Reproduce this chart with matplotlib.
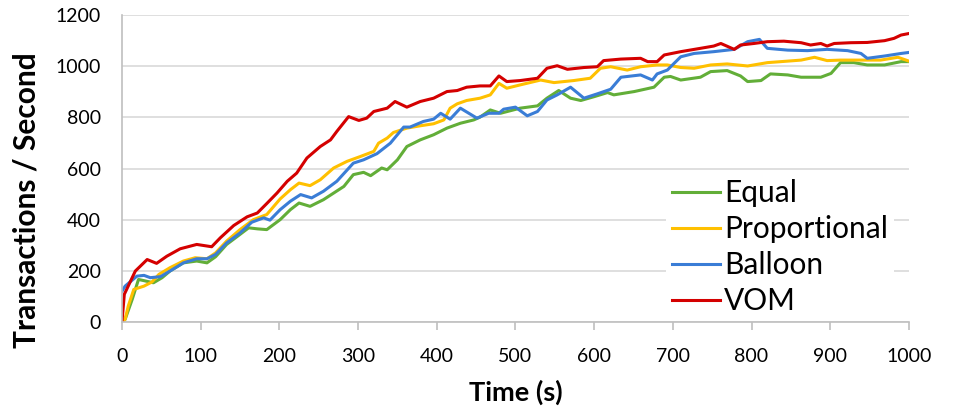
import matplotlib
matplotlib.use("Agg")
import matplotlib.pyplot as plt

# values (time in s, transactions / second)
equal_t = [0, 4, 13, 21, 30, 40, 51, 61, 78, 95, 108, 119, 133, 146, 161, 172, 184, 201, 214, 225,
           239, 256, 269, 282, 294, 307, 316, 330, 337, 350, 362, 379, 396, 413, 430, 447, 455, 468,
           481, 506, 528, 540, 555, 570, 583, 600, 617, 625, 651, 676, 689, 697, 710, 735, 748, 769,
           786, 795, 812, 824, 846, 863, 888, 901, 913, 930, 947, 969, 990, 1000]
equal_v = [0, 10, 88, 166, 160, 153, 173, 199, 231, 238, 231, 255, 303, 333, 368, 364, 361, 400, 439, 465,
           452, 478, 504, 530, 576, 585, 572, 602, 595, 634, 686, 712, 732, 758, 777, 790, 801, 829,
           816, 836, 845, 875, 905, 875, 866, 881, 897, 888, 901, 918, 957, 960, 946, 957, 979, 983,
           962, 940, 944, 970, 966, 957, 957, 972, 1014, 1014, 1005, 1005, 1018, 1018]

prop_t = [0, 4, 8, 15, 28, 38, 47, 61, 78, 93, 108, 119, 133, 150, 167, 184, 201, 214, 225, 239,
          252, 269, 286, 303, 320, 326, 337, 345, 362, 379, 396, 409, 417, 426, 438, 455, 468, 479,
          489, 506, 532, 549, 574, 595, 608, 621, 642, 659, 680, 693, 710, 727, 748, 769, 795, 820,
          846, 863, 880, 896, 913, 939, 964, 986, 1000]
prop_v = [0, 10, 62, 127, 140, 156, 186, 212, 238, 251, 247, 270, 316, 361, 400, 420, 481, 517, 543, 533,
          556, 602, 628, 647, 667, 699, 719, 741, 758, 767, 775, 790, 836, 853, 866, 875, 888, 933,
          914, 927, 946, 936, 944, 953, 992, 998, 985, 998, 1005, 1005, 995, 992, 1005, 1009, 1001, 1014,
          1020, 1024, 1035, 1022, 1024, 1024, 1024, 1035, 1020]

balloon_t = [0, 4, 19, 28, 36, 49, 61, 78, 95, 108, 119, 133, 150, 165, 180, 188, 201, 214, 227, 241,
             256, 273, 294, 307, 324, 341, 358, 366, 383, 396, 405, 417, 430, 451, 466, 479, 485, 500,
             515, 528, 540, 553, 570, 587, 604, 621, 634, 659, 674, 680, 693, 710, 727, 752, 778, 795,
             810, 820, 846, 871, 896, 922, 939, 947, 969, 990, 1000]
balloon_v = [120, 140, 179, 182, 173, 177, 199, 231, 247, 247, 264, 309, 348, 390, 407, 398, 439, 472, 498, 485,
             511, 550, 621, 634, 658, 699, 762, 762, 784, 793, 816, 793, 836, 797, 816, 816, 832, 840,
             806, 823, 868, 888, 918, 875, 892, 910, 957, 966, 946, 970, 985, 1037, 1050, 1057, 1066, 1096,
             1105, 1070, 1063, 1061, 1066, 1061, 1050, 1031, 1040, 1050, 1054]

vom_t = [0, 3, 17, 32, 44, 57, 74, 95, 114, 125, 142, 159, 172, 184, 197, 210, 222, 235, 252, 265,
         273, 288, 301, 311, 320, 337, 347, 362, 379, 396, 413, 426, 438, 455, 468, 479, 489, 506,
         528, 540, 553, 566, 587, 604, 612, 634, 659, 668, 680, 689, 710, 735, 752, 761, 778, 786,
         803, 820, 841, 863, 875, 888, 896, 905, 926, 947, 969, 981, 990, 1000]
vom_v = [0, 108, 199, 244, 229, 257, 286, 303, 294, 329, 377, 411, 426, 463, 504, 550, 582, 641, 686, 712,
         745, 803, 788, 797, 823, 836, 862, 840, 862, 875, 901, 905, 918, 923, 923, 962, 940, 944,
         953, 992, 1002, 988, 995, 998, 1022, 1028, 1031, 1018, 1018, 1044, 1057, 1070, 1079, 1089, 1066, 1083,
         1089, 1096, 1098, 1092, 1083, 1089, 1079, 1089, 1092, 1093, 1100, 1109, 1122, 1128]

plt.rcParams['font.family'] = ['Lato', 'DejaVu Sans']

fig = plt.figure(figsize=(9.68, 4.08), dpi=100)
ax = fig.add_axes([0.126, 0.211, 0.813, 0.752])

ax.plot(equal_t, equal_v, color='#62AE38', lw=2.2, label='Equal')
ax.plot(prop_t, prop_v, color='#FFC000', lw=2.2, label='Proportional')
ax.plot(balloon_t, balloon_v, color='#3A7DD6', lw=2.2, label='Balloon')
ax.plot(vom_t, vom_v, color='#D40000', lw=2.2, label='VOM')

ax.set_xlim(0, 1000)
ax.set_ylim(0, 1200)
ax.set_xticks(range(0, 1001, 100))
ax.set_yticks(range(0, 1201, 200))
ax.yaxis.grid(True, color='#D9D9D9', lw=1.2)
ax.set_axisbelow(True)
for s in ['top', 'right']:
    ax.spines[s].set_visible(False)
for s in ['left', 'bottom']:
    ax.spines[s].set_color('#BFBFBF')
    ax.spines[s].set_linewidth(1.2)
ax.tick_params(axis='x', length=6, width=1.2, color='#BFBFBF', labelsize=14, pad=13)
ax.tick_params(axis='y', length=0, labelsize=14, pad=15)

ax.set_xlabel('Time (s)', fontsize=19.5, fontweight='bold', labelpad=10)
ax.set_ylabel('Transactions / Second', fontsize=21.5, fontweight='bold')
ax.yaxis.set_label_coords(-0.104, 0.397)

leg = ax.legend(loc='lower right', bbox_to_anchor=(1.0, -0.047), fontsize=21.5, frameon=True,
                edgecolor='none', facecolor='white', framealpha=1, fancybox=False,
                handlelength=1.6, handletextpad=0.15, labelspacing=0.27, borderpad=0.2)

fig.savefig('out.png', dpi=100)
